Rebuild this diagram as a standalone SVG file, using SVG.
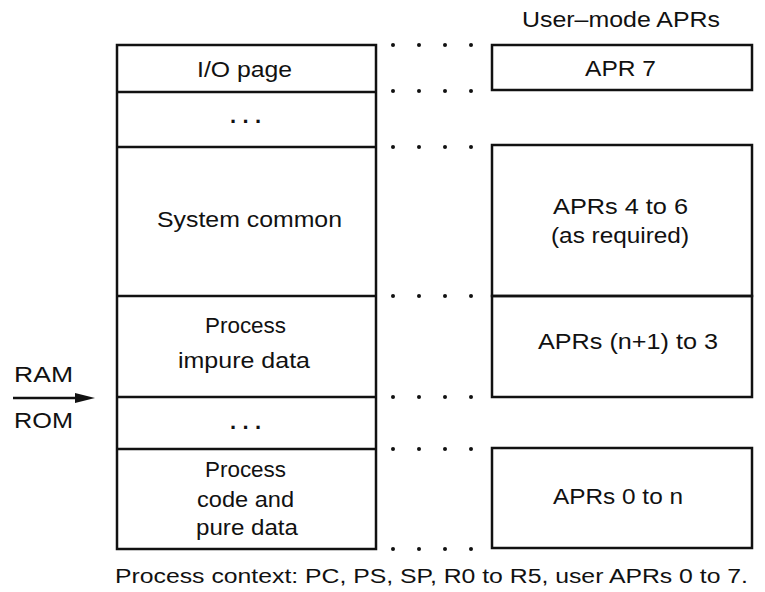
<svg xmlns="http://www.w3.org/2000/svg" width="765" height="592" viewBox="0 0 765 592">
  <style>
    .box { fill: none; stroke: #111; stroke-width: 2.5; }
    .sep { stroke: #111; stroke-width: 2.5; }
    .lbl { font-family: "Liberation Sans", Arial, sans-serif; font-size: 22px; fill: #111; }
    .small { font-size: 20px; }
    .ell { font-weight: bold; }
    .dot { fill: #111; }
  </style>
  <defs>
    <!-- row of four guide dots between the memory map and the APR boxes -->
    <g id="dotrow">
      <circle class="dot" cx="393" cy="0" r="2"/>
      <circle class="dot" cx="419" cy="0" r="2"/>
      <circle class="dot" cx="445" cy="0" r="2"/>
      <circle class="dot" cx="471" cy="0" r="2"/>
    </g>
  </defs>
  <rect width="765" height="592" fill="#fff"/>

  <text class="lbl" x="522" y="27" textLength="198" lengthAdjust="spacingAndGlyphs">User–mode APRs</text>

  <!-- physical memory map -->
  <g id="memory">
    <rect class="box" x="117" y="45" width="259" height="504"/>
    <line class="sep" x1="117" y1="92" x2="376" y2="92"/>
    <line class="sep" x1="117" y1="147" x2="376" y2="147"/>
    <line class="sep" x1="117" y1="296" x2="376" y2="296"/>
    <line class="sep" x1="117" y1="397" x2="376" y2="397"/>
    <line class="sep" x1="117" y1="449" x2="376" y2="449"/>
  </g>
  <g id="io-page">
    <text class="lbl" x="197" y="77" textLength="95" lengthAdjust="spacingAndGlyphs">I/O page</text>
  </g>
  <g id="gap-upper">
    <text class="lbl ell" x="230" y="123" textLength="31" lengthAdjust="spacing">...</text>
  </g>
  <g id="system-common">
    <text class="lbl" x="157" y="227" textLength="185" lengthAdjust="spacingAndGlyphs">System common</text>
  </g>
  <g id="impure-data">
    <text class="lbl" x="205" y="333" textLength="81" lengthAdjust="spacingAndGlyphs">Process</text>
    <text class="lbl" x="178" y="368" textLength="132" lengthAdjust="spacingAndGlyphs">impure data</text>
  </g>
  <g id="gap-lower">
    <text class="lbl ell" x="230" y="429" textLength="31" lengthAdjust="spacing">...</text>
  </g>
  <g id="pure-data">
    <text class="lbl" x="205" y="477" textLength="81" lengthAdjust="spacingAndGlyphs">Process</text>
    <text class="lbl" x="197" y="507" textLength="97" lengthAdjust="spacingAndGlyphs">code and</text>
    <text class="lbl" x="196" y="535" textLength="102" lengthAdjust="spacingAndGlyphs">pure data</text>
  </g>

  <!-- user-mode APR boxes -->
  <g id="apr7">
    <rect class="box" x="492" y="45" width="260" height="45"/>
    <text class="lbl" x="585" y="76" textLength="71" lengthAdjust="spacingAndGlyphs">APR 7</text>
  </g>
  <g id="apr4-6">
    <rect class="box" x="492" y="145" width="260" height="151"/>
    <text class="lbl" x="553" y="214" textLength="135" lengthAdjust="spacingAndGlyphs">APRs 4 to 6</text>
    <text class="lbl" x="551" y="243" textLength="138" lengthAdjust="spacingAndGlyphs">(as required)</text>
  </g>
  <g id="apr-n1-3">
    <rect class="box" x="492" y="296" width="260" height="101"/>
    <text class="lbl" x="538" y="349" textLength="180" lengthAdjust="spacingAndGlyphs">APRs (n+1) to 3</text>
  </g>
  <g id="apr0-n">
    <rect class="box" x="492" y="448" width="260" height="100"/>
    <text class="lbl" x="553" y="504" textLength="130" lengthAdjust="spacingAndGlyphs">APRs 0 to n</text>
  </g>

  <!-- RAM / ROM boundary marker -->
  <g id="ram-rom">
    <text class="lbl" x="14" y="382" textLength="59" lengthAdjust="spacingAndGlyphs">RAM</text>
    <text class="lbl" x="14" y="428" textLength="59" lengthAdjust="spacingAndGlyphs">ROM</text>
  </g>

  <g id="connectors">
    <line x1="13" y1="398" x2="80" y2="398" stroke="#111" stroke-width="2.5"/>
    <polygon points="75,393 95,398 75,403" fill="#111"/>
    <use href="#dotrow" y="45"/>
    <use href="#dotrow" y="91"/>
    <use href="#dotrow" y="147"/>
    <use href="#dotrow" y="296"/>
    <use href="#dotrow" y="397"/>
    <use href="#dotrow" y="449"/>
    <use href="#dotrow" y="549"/>
  </g>

  <text class="lbl small" x="115" y="583" textLength="633" lengthAdjust="spacingAndGlyphs">Process context:  PC, PS, SP, R0 to R5, user APRs 0 to 7.</text>
</svg>
